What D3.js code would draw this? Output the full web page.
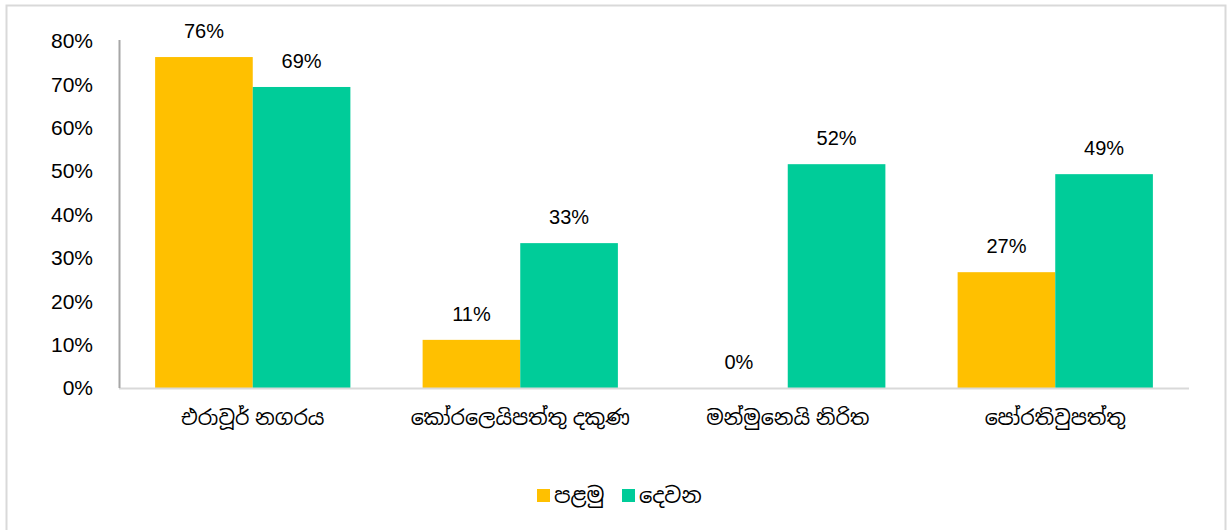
<!DOCTYPE html>
<html>
<head>
<meta charset="utf-8">
<script src="https://cdn.jsdelivr.net/npm/d3@7"></script>
<style>
  body { margin: 0; background: #fff; }
  text { font-family: "Liberation Sans", "Noto Sans", "Noto Sans Sinhala", sans-serif; fill: #000; }
</style>
</head>
<body>
<div id="main"></div>
<script>
var categories = ["එරාවූර් නගරය", "කෝරලෙයිපත්තු දකුණ", "මන්මුනෙයි නිරිත", "පෝරතිවුපත්තු"];
var seriesNames = ["පළමු", "දෙවන"];
var first = [76.3, 11.1, 0, 26.7];
var second = [69.4, 33.4, 51.6, 49.3];
var yTicks = [0, 10, 20, 30, 40, 50, 60, 70, 80];
var colors = ["#FFC000", "#00CC99"];

var width = 1227, height = 530;
var plotLeft = 119, plotRight = 1189, plotTop = 41, plotBottom = 388;

var svg = d3.select("#main").append("svg")
  .attr("width", width)
  .attr("height", height);

// chart frame
svg.append("rect")
  .attr("x", 6.5).attr("y", 5.5)
  .attr("width", 1219).attr("height", 540)
  .attr("fill", "none")
  .attr("stroke", "#d9d9d9")
  .attr("stroke-width", 2);

var x = d3.scaleBand()
  .domain(categories)
  .range([plotLeft, plotRight])
  .paddingInner(0.27)
  .paddingOuter(0.135);

var xs = d3.scaleBand()
  .domain([0, 1])
  .range([0, x.bandwidth()]);

var y = d3.scaleLinear()
  .domain([0, 80])
  .range([plotBottom, plotTop]);

// y tick labels
svg.append("g").selectAll("text")
  .data(yTicks)
  .enter().append("text")
  .attr("x", 93)
  .attr("y", function(d) { return y(d); })
  .attr("dy", "0.35em")
  .attr("text-anchor", "end")
  .style("font-size", "21px")
  .text(function(d) { return d + "%"; });

var groups = svg.append("g").selectAll("g")
  .data(categories)
  .enter().append("g")
  .attr("transform", function(d) { return "translate(" + x(d) + ",0)"; });

var rows = categories.map(function(c, i) { return [first[i], second[i]]; });

groups.each(function(c, i) {
  var g = d3.select(this);
  rows[i].forEach(function(v, s) {
    g.append("rect")
      .attr("x", xs(s))
      .attr("y", y(v))
      .attr("width", xs.bandwidth())
      .attr("height", plotBottom - y(v))
      .attr("fill", colors[s]);
    g.append("text")
      .attr("x", xs(s) + xs.bandwidth() / 2)
      .attr("y", y(v) - 19)
      .attr("text-anchor", "middle")
      .style("font-size", "20px")
      .text(Math.round(v) + "%");
  });
});

// axes lines
svg.append("line")
  .attr("x1", plotLeft).attr("x2", plotRight)
  .attr("y1", plotBottom + 0.5).attr("y2", plotBottom + 0.5)
  .attr("stroke", "#d9d9d9").attr("stroke-width", 2);
svg.append("line")
  .attr("x1", plotLeft + 0.5).attr("x2", plotLeft + 0.5)
  .attr("y1", plotTop - 1).attr("y2", plotBottom)
  .attr("stroke", "#a6a6a6").attr("stroke-width", 2);

// category labels
svg.append("g").selectAll("text")
  .data(categories)
  .enter().append("text")
  .attr("x", function(d) { return x(d) + x.bandwidth() / 2; })
  .attr("y", 418)
  .attr("dy", "0.35em")
  .attr("text-anchor", "middle")
  .style("font-size", "20.5px")
  .text(function(d) { return d; });

// legend
var legend = svg.append("g");
var lx = [537, 622];
seriesNames.forEach(function(n, i) {
  legend.append("rect")
    .attr("x", lx[i]).attr("y", 489)
    .attr("width", 13).attr("height", 13)
    .attr("fill", colors[i]);
  legend.append("text")
    .attr("x", lx[i] + 17).attr("y", 496)
    .attr("dy", "0.35em")
    .style("font-size", "21px")
    .text(n);
});
</script>
</body>
</html>
